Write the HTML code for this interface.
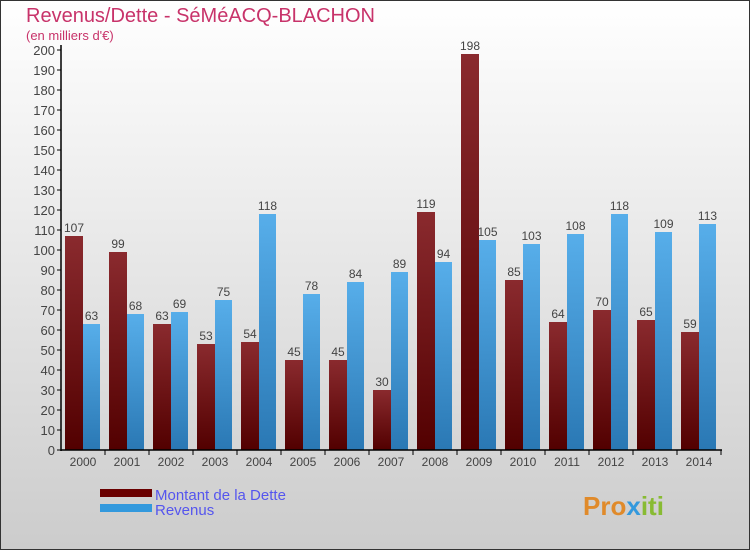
<!DOCTYPE html>
<html><head><meta charset="utf-8"><style>
body{margin:0}
svg{display:block;font-family:"Liberation Sans",sans-serif}
</style></head><body>
<svg id="c" width="750" height="550" xmlns="http://www.w3.org/2000/svg">
<defs>
<linearGradient id="bg" x1="0" y1="0" x2="0" y2="1"><stop offset="0" stop-color="#ffffff"/><stop offset="1" stop-color="#cccccc"/></linearGradient>
<linearGradient id="gd" x1="0" y1="0" x2="0" y2="1"><stop offset="0" stop-color="#8a2a2e"/><stop offset="1" stop-color="#520000"/></linearGradient>
<linearGradient id="gr" x1="0" y1="0" x2="0" y2="1"><stop offset="0" stop-color="#57aeea"/><stop offset="1" stop-color="#2a78b4"/></linearGradient>
</defs>
<rect x="0.5" y="0.5" width="749" height="549" fill="url(#bg)" stroke="#333"/>
<text x="26" y="22" font-size="20" fill="#c8336a">Revenus/Dette - SéMéACQ-BLACHON</text>
<text x="26" y="40" font-size="13" fill="#c8336a">(en milliers d'€)</text>
<g id="plot"></g>
<g>
<rect x="100" y="489" width="52" height="8" fill="#6a0000"/>
<text x="155" y="500" font-size="15" fill="#5555ee">Montant de la Dette</text>
<rect x="100" y="504" width="52" height="8" fill="#3399dd"/>
<text x="155" y="515" font-size="15" fill="#5555ee">Revenus</text>
</g>
<text x="583" y="515" font-size="26" font-weight="bold" fill="#e08a2a">Pro<tspan fill="#3399dd">x</tspan><tspan fill="#88bb33">iti</tspan></text>
</svg>
<script>
const years=["2000","2001","2002","2003","2004","2005","2006","2007","2008","2009","2010","2011","2012","2013","2014"];
const dette=[107,99,63,53,54,45,45,30,119,198,85,64,70,65,59];
const revenus=[63,68,69,75,118,78,84,89,94,105,103,108,118,109,113];
const ticks=[0,10,20,30,40,50,60,70,80,90,100,110,120,130,140,150,160,170,180,190,200];
const NS="http://www.w3.org/2000/svg";
const g=document.getElementById('plot');
const y=v=>450-v*2;
const xg=i=>65+44*i;
function mk(t,a,txt){const e=document.createElementNS(NS,t);for(const k in a)e.setAttribute(k,a[k]);if(txt!=null)e.textContent=txt;g.appendChild(e);return e;}
ticks.forEach(t=>{
const l=mk('line',{x1:57,x2:61,y1:y(t),y2:y(t),stroke:'#000'});


const tx=mk('text',{x:55,y:y(t)+5,'font-size':13,'text-anchor':'end',fill:'#444'},t);


});
years.forEach((yr,i)=>{
const b1=mk('rect',{x:xg(i),y:y(dette[i]),width:18,height:dette[i]*2,fill:'url(#gd)'});


const b2=mk('rect',{x:xg(i)+18,y:y(revenus[i]),width:17,height:revenus[i]*2,fill:'url(#gr)'});


const v1=mk('text',{x:xg(i)+9,y:y(dette[i])-4,'font-size':12,'text-anchor':'middle',fill:'#444'},dette[i]);


const v2=mk('text',{x:xg(i)+26.5,y:y(revenus[i])-4,'font-size':12,'text-anchor':'middle',fill:'#444'},revenus[i]);


const tk=mk('line',{x1:xg(i)+40,x2:xg(i)+40,y1:450,y2:455,stroke:'#000'});


const xl=mk('text',{x:xg(i)+18,y:466,'font-size':12,'text-anchor':'middle',fill:'#444'},yr);


});
const ya=mk('line',{x1:61,x2:61,y1:45,y2:451,stroke:'#000','stroke-width':1.5});


const xa=mk('line',{x1:61,x2:722,y1:450,y2:450,stroke:'#000','stroke-width':1.5});


</script>
</body></html>
